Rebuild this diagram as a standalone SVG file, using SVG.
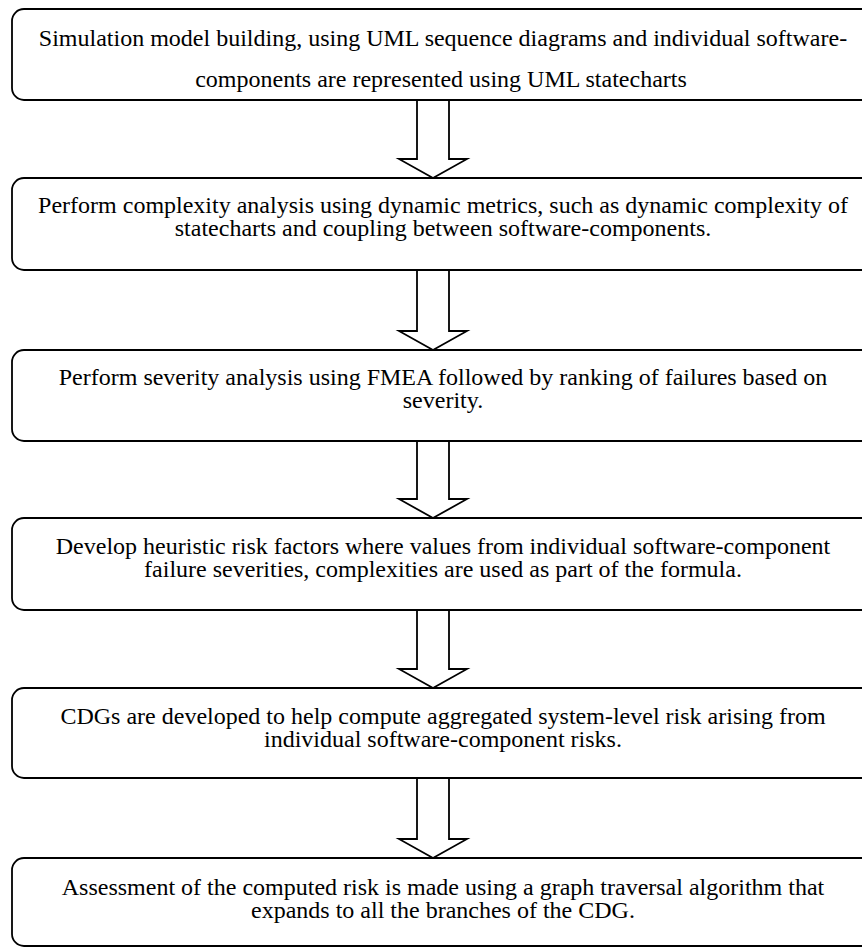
<svg xmlns="http://www.w3.org/2000/svg" width="862" height="947" viewBox="0 0 862 947">
  <style>
    .box { fill: #ffffff; stroke: #000000; stroke-width: 1.8; }
    .arrow { fill: #ffffff; stroke: #000000; stroke-width: 1.8; stroke-linejoin: miter; }
    .label { font-family: "Liberation Serif", "Times New Roman", serif; font-size: 24px; fill: #000000; text-anchor: middle; }
  </style>
  <rect width="862" height="947" fill="#ffffff"/>

  <!-- block arrows between the steps -->
  <g id="connectors">
    <path class="arrow" d="M417,100 L449,100 L449,159 L467,159 L433,178 L399,159 L417,159 Z"/>
    <path class="arrow" d="M417,270 L449,270 L449,331 L467,331 L433,350 L399,331 L417,331 Z"/>
    <path class="arrow" d="M417,441 L449,441 L449,499 L467,499 L433,518 L399,499 L417,499 Z"/>
    <path class="arrow" d="M417,610 L449,610 L449,669 L467,669 L433,688 L399,669 L417,669 Z"/>
    <path class="arrow" d="M417,778 L449,778 L449,839 L467,839 L433,858 L399,839 L417,839 Z"/>
  </g>

  <g id="step1">
    <rect class="box" x="12" y="9" width="870" height="91" rx="12"/>
    <text class="label" x="443" y="46">Simulation model building, using UML sequence diagrams and individual software-</text>
    <text class="label" x="441" y="87">components are represented using UML statecharts</text>
  </g>

  <g id="step2">
    <rect class="box" x="12" y="178" width="870" height="92" rx="12"/>
    <text class="label" x="443" y="213">Perform complexity analysis using dynamic metrics, such as dynamic complexity of</text>
    <text class="label" x="443" y="236">statecharts and coupling between software-components.</text>
  </g>

  <g id="step3">
    <rect class="box" x="12" y="350" width="870" height="91" rx="12"/>
    <text class="label" x="443" y="385">Perform severity analysis using FMEA followed by ranking of failures based on</text>
    <text class="label" x="443" y="408">severity.</text>
  </g>

  <g id="step4">
    <rect class="box" x="12" y="518" width="870" height="92" rx="12"/>
    <text class="label" x="443" y="554">Develop heuristic risk factors where values from individual software-component</text>
    <text class="label" x="443" y="577">failure severities, complexities are used as part of the formula.</text>
  </g>

  <g id="step5">
    <rect class="box" x="12" y="688" width="870" height="90" rx="12"/>
    <text class="label" x="443" y="724">CDGs are developed to help compute aggregated system-level risk arising from</text>
    <text class="label" x="443" y="747">individual software-component risks.</text>
  </g>

  <g id="step6">
    <rect class="box" x="12" y="858" width="870" height="88" rx="12"/>
    <text class="label" x="443" y="895">Assessment of the computed risk is made using a graph traversal algorithm that</text>
    <text class="label" x="443" y="918">expands to all the branches of the CDG.</text>
  </g>
</svg>
